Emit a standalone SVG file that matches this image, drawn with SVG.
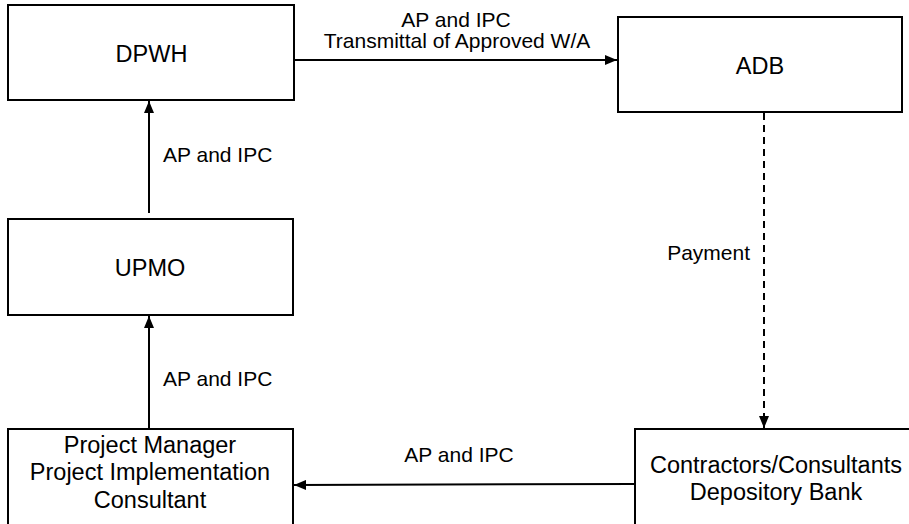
<svg xmlns="http://www.w3.org/2000/svg" width="909" height="524" viewBox="0 0 909 524">
<defs>
<marker id="arr" viewBox="0 0 12 10" refX="12" refY="5" markerWidth="12" markerHeight="10" markerUnits="userSpaceOnUse" orient="auto">
<path d="M0,0 L12,5 L0,10 Z" fill="#000"/>
</marker>
<style>
.box{fill:#fff;stroke:#000;stroke-width:2}
.t{font-family:"Liberation Sans",Arial,sans-serif;font-size:21px;fill:#000}
.b{font-size:23.5px}
.c{text-anchor:middle}
.ln{stroke:#000;stroke-width:2;fill:none}
.d{stroke-dasharray:7 5}
</style>
</defs>
<rect width="909" height="524" fill="#fff"/>
<g id="dpwh"><rect class="box" x="8" y="5" width="286" height="95"/><text class="t b c" x="151.5" y="62">DPWH</text></g>
<g id="adb"><rect class="box" x="618" y="17" width="284" height="95"/><text class="t b c" x="760" y="74">ADB</text></g>
<g id="upmo"><rect class="box" x="8" y="219" width="285" height="96"/><text class="t b c" x="150" y="276">UPMO</text></g>
<g id="pm"><rect class="box" x="8" y="429" width="285" height="100"/>
<text class="t b c" x="150" y="453">Project Manager</text>
<text class="t b c" x="150" y="480">Project Implementation</text>
<text class="t b c" x="150" y="508">Consultant</text></g>
<g id="bank"><rect class="box" x="635" y="429" width="280" height="100"/>
<text class="t b c" x="776" y="473">Contractors/Consultants</text>
<text class="t b c" x="776" y="500">Depository Bank</text></g>
<g id="connectors">
<line class="ln" x1="294" y1="60" x2="617" y2="60" marker-end="url(#arr)"/>
<line class="ln" x1="149" y1="213" x2="149" y2="101" marker-end="url(#arr)"/>
<line class="ln" x1="149" y1="429" x2="149" y2="316" marker-end="url(#arr)"/>
<line class="ln d" x1="764" y1="113" x2="764" y2="428" marker-end="url(#arr)"/>
<line class="ln" x1="635" y1="484" x2="294" y2="485" marker-end="url(#arr)"/>
<text class="t c" x="456" y="27">AP and IPC</text>
<text class="t c" x="457" y="48">Transmittal of Approved W/A</text>
<text class="t" x="163" y="162">AP and IPC</text>
<text class="t" x="163" y="386">AP and IPC</text>
<text class="t" x="750" y="260" text-anchor="end">Payment</text>
<text class="t c" x="459" y="462">AP and IPC</text>
</g>
</svg>
